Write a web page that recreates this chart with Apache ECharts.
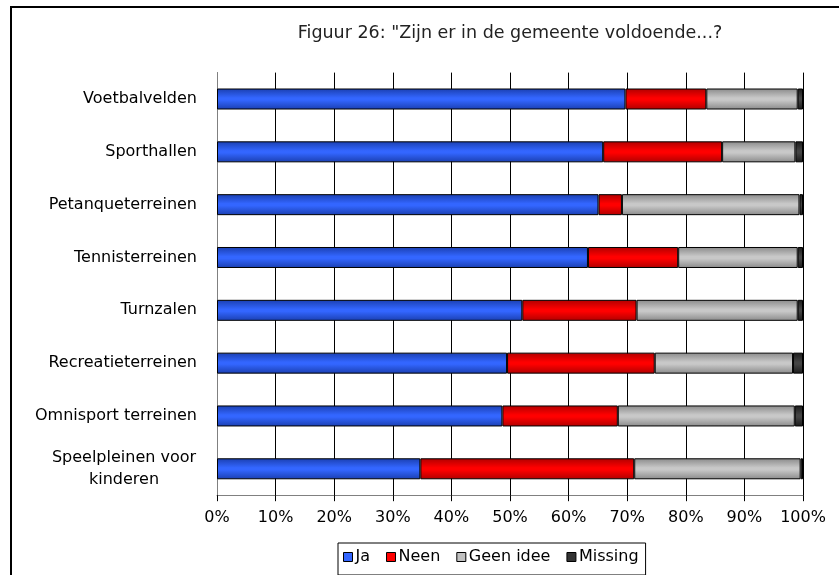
<!DOCTYPE html>
<html><head><meta charset="utf-8">
<script src="https://cdn.jsdelivr.net/npm/echarts@6/dist/echarts.min.js"></script>
<style>html,body{margin:0;padding:0;background:#fff}#c{width:839px;height:575px}</style>
</head><body><div id="c"></div>
<script>
const categories = ["Voetbalvelden","Sporthallen","Petanqueterreinen","Tennisterreinen","Turnzalen","Recreatieterreinen","Omnisport terreinen","Speelpleinen voor\nkinderen"];
const ja = [69.7, 65.9, 65.1, 63.3, 52.1, 49.5, 48.7, 34.7];
const neen = [13.8, 20.3, 4.0, 15.4, 19.5, 25.2, 19.7, 36.5];
const geenIdee = [15.6, 12.5, 30.3, 20.4, 27.5, 23.6, 30.2, 28.4];
const missing = [0.9, 1.3, 0.6, 0.9, 0.9, 1.7, 1.4, 0.4];
const titleText = 'Figuur 26: "Zijn er in de gemeente voldoende...?';

function grad(edge, mid){
  return {type:'linear',x:0,y:0,x2:0,y2:1,colorStops:[
    {offset:0,color:edge},{offset:0.45,color:mid},{offset:0.55,color:mid},{offset:1,color:edge}]};
}
const font = 'DejaVu Sans';
const chart = echarts.init(document.getElementById('c'), null, {renderer:'canvas'});
function mk(name, data, edge, mid){
  return {name, type:'bar', stack:'t', data, barWidth:21,
    itemStyle:{color:grad(edge,mid), borderColor:'#000', borderWidth:1},
    emphasis:{disabled:true}};
}
chart.setOption({
  animation:false,
  title:{text:titleText,left:505,textAlign:'center',top:19,
    textStyle:{fontFamily:font,fontSize:17.5,fontWeight:'normal',color:'#222'}},
  graphic:[{type:'rect',shape:{x:11,y:7,width:1000,height:800},style:{fill:'none',stroke:'#000',lineWidth:2}}],
  legend:{left:338,top:543,itemWidth:9,itemHeight:9,itemGap:16,padding:[6,7,10,5],
    borderColor:'#000',borderWidth:1,icon:'rect',
    textStyle:{fontFamily:font,fontSize:16,color:'#000',padding:[0,0,0,-2]},
    data:[
      {name:'Ja',itemStyle:{color:'#3366ff',borderColor:'#000',borderWidth:1}},
      {name:'Neen',itemStyle:{color:'#ff0000',borderColor:'#000',borderWidth:1}},
      {name:'Geen idee',itemStyle:{color:'#c0c0c0',borderColor:'#000',borderWidth:1}},
      {name:'Missing',itemStyle:{color:'#333333',borderColor:'#000',borderWidth:1}}]},
  grid:{left:217,right:36,top:72.6,bottom:79.8,containLabel:false},
  xAxis:{type:'value',min:0,max:100,interval:10,
    axisLine:{show:true,lineStyle:{color:'#808080',width:1}},
    axisTick:{show:true,length:6,lineStyle:{color:'#000'}},
    splitLine:{show:true,lineStyle:{color:'#000',width:1}},
    axisLabel:{formatter:v=>v+'%',fontFamily:font,fontSize:16,color:'#000',margin:15}},
  yAxis:{type:'category',data:categories,inverse:true,
    axisLine:{show:true,lineStyle:{color:'#808080',width:1}},
    axisTick:{show:false},
    axisLabel:{fontFamily:font,fontSize:16,color:'#000',margin:20,align:'right',
      formatter:function(v){
        if(v.indexOf('\n')>=0){return v.split('\n').map(s=>'{c|'+s+'}').join('\n');}
        return v;
      },
      rich:{c:{fontFamily:font,fontSize:16,color:'#000',width:146,align:'center',lineHeight:22}}}},
  series:[
    mk('Ja',ja,'#1a3fb0','#3366ff'),
    mk('Neen',neen,'#b00000','#ff0000'),
    mk('Geen idee',geenIdee,'#8a8a8a','#c8c8c8'),
    mk('Missing',missing,'#1a1a1a','#444444')
  ]
});
</script></body></html>
